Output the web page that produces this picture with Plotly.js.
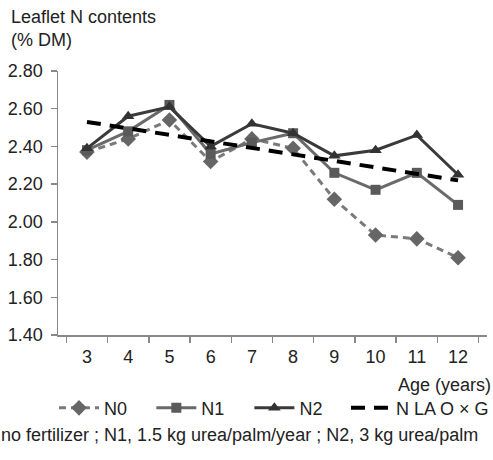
<!DOCTYPE html>
<html>
<head>
<meta charset="utf-8">
<script src="https://cdn.plot.ly/plotly-3.0.1.min.js"></script>
<style>html,body{margin:0;padding:0;background:#fff;}#chart{width:493px;height:460px;}</style>
</head>
<body>
<div id="chart"></div>
<script>
const ages = ["3","4","5","6","7","8","9","10","11","12"];
const n0 = [2.37, 2.44, 2.54, 2.32, 2.44, 2.39, 2.12, 1.93, 1.91, 1.81];
const n1 = [2.38, 2.48, 2.62, 2.36, 2.42, 2.47, 2.26, 2.17, 2.26, 2.09];
const n2 = [2.39, 2.56, 2.61, 2.40, 2.52, 2.47, 2.35, 2.38, 2.46, 2.25];
const trendAges = ["3","12"];
const trendVals = [2.53, 2.22];
const yTicks = [1.40, 1.60, 1.80, 2.00, 2.20, 2.40, 2.60, 2.80];
const seriesNames = ["N0", "N1", "N2", "N LA O × G"];

const FONT = "Liberation Sans, Arial, sans-serif";
const FS = 18;
const TXT = "#222222";
const traces = [
  {x: ages, y: n0, name: seriesNames[0], type: "scatter", mode: "lines+markers", legend: "legend",
   line: {color: "#7a7a7a", width: 3, dash: "7px,5px"},
   marker: {symbol: "diamond", size: 12, color: "#666666"}},
  {x: ages, y: n1, name: seriesNames[1], type: "scatter", mode: "lines+markers", legend: "legend2",
   line: {color: "#6a6a6a", width: 3},
   marker: {symbol: "square", size: 10, color: "#5a5a5a"}},
  {x: ages, y: n2, name: seriesNames[2], type: "scatter", mode: "lines+markers", legend: "legend3",
   line: {color: "#3a3a3a", width: 3},
   marker: {symbol: "triangle-up", size: 11, color: "#333333"}},
  {x: trendAges, y: trendVals, name: seriesNames[3], type: "scatter", mode: "lines", legend: "legend4",
   line: {color: "#000000", width: 4, dash: "14px,9px"}}
];

function leg(xp) {
  return {orientation: "h", x: xp, xanchor: "left", y: -0.277, yanchor: "middle",
          font: {family: FONT, size: FS, color: TXT}, bgcolor: "rgba(0,0,0,0)",
          itemwidth: 40};
}

const layout = {
  width: 493, height: 460,
  margin: {l: 58, r: 6, t: 71, b: 125, autoexpand: false},
  paper_bgcolor: "#ffffff", plot_bgcolor: "#ffffff",
  font: {family: FONT, size: FS, color: TXT},
  showlegend: true,
  legend: leg(-0.0093),
  legend2: leg(0.2176),
  legend3: leg(0.4461),
  legend4: leg(0.6713),
  xaxis: {type: "category", categoryorder: "array", categoryarray: ages,
          tickvals: ages, ticktext: ages,
          showgrid: false, zeroline: false, showline: true, linecolor: "#888888", linewidth: 1.5,
          ticks: "outside", ticklen: 6, tickcolor: "#888888", tickwidth: 1.5,
          tickson: "boundaries", ticklabelstandoff: 5,
          tickfont: {family: FONT, size: FS, color: TXT},
          fixedrange: true},
  yaxis: {range: [1.4, 2.8], tickvals: yTicks, ticktext: yTicks.map(v => v.toFixed(2)),
          showgrid: false, zeroline: false, showline: true, linecolor: "#888888", linewidth: 1.5,
          ticks: "outside", ticklen: 6, tickcolor: "#888888", tickwidth: 1.5,
          ticklabelstandoff: 4,
          tickfont: {family: FONT, size: FS, color: TXT},
          fixedrange: true},
  annotations: [
    {text: "Leaflet N contents", xref: "paper", yref: "paper", x: -0.114, y: 1.205,
     xanchor: "left", yanchor: "middle", showarrow: false,
     font: {family: FONT, size: FS, color: TXT}},
    {text: "(% DM)", xref: "paper", yref: "paper", x: -0.114, y: 1.117,
     xanchor: "left", yanchor: "middle", showarrow: false,
     font: {family: FONT, size: FS, color: TXT}},
    {text: "Age (years)", xref: "paper", yref: "paper", x: 1.014, y: -0.189,
     xanchor: "right", yanchor: "middle", showarrow: false,
     font: {family: FONT, size: FS, color: TXT}},
    {text: "no fertilizer ; N1, 1.5 kg urea/palm/year ; N2, 3 kg urea/palm", xref: "paper", yref: "paper",
     x: -0.137, y: -0.379, xanchor: "left", yanchor: "middle", showarrow: false,
     font: {family: FONT, size: FS, color: TXT}}
  ]
};

Plotly.newPlot("chart", traces, layout, {displayModeBar: false, staticPlot: true});
</script>
</body>
</html>
